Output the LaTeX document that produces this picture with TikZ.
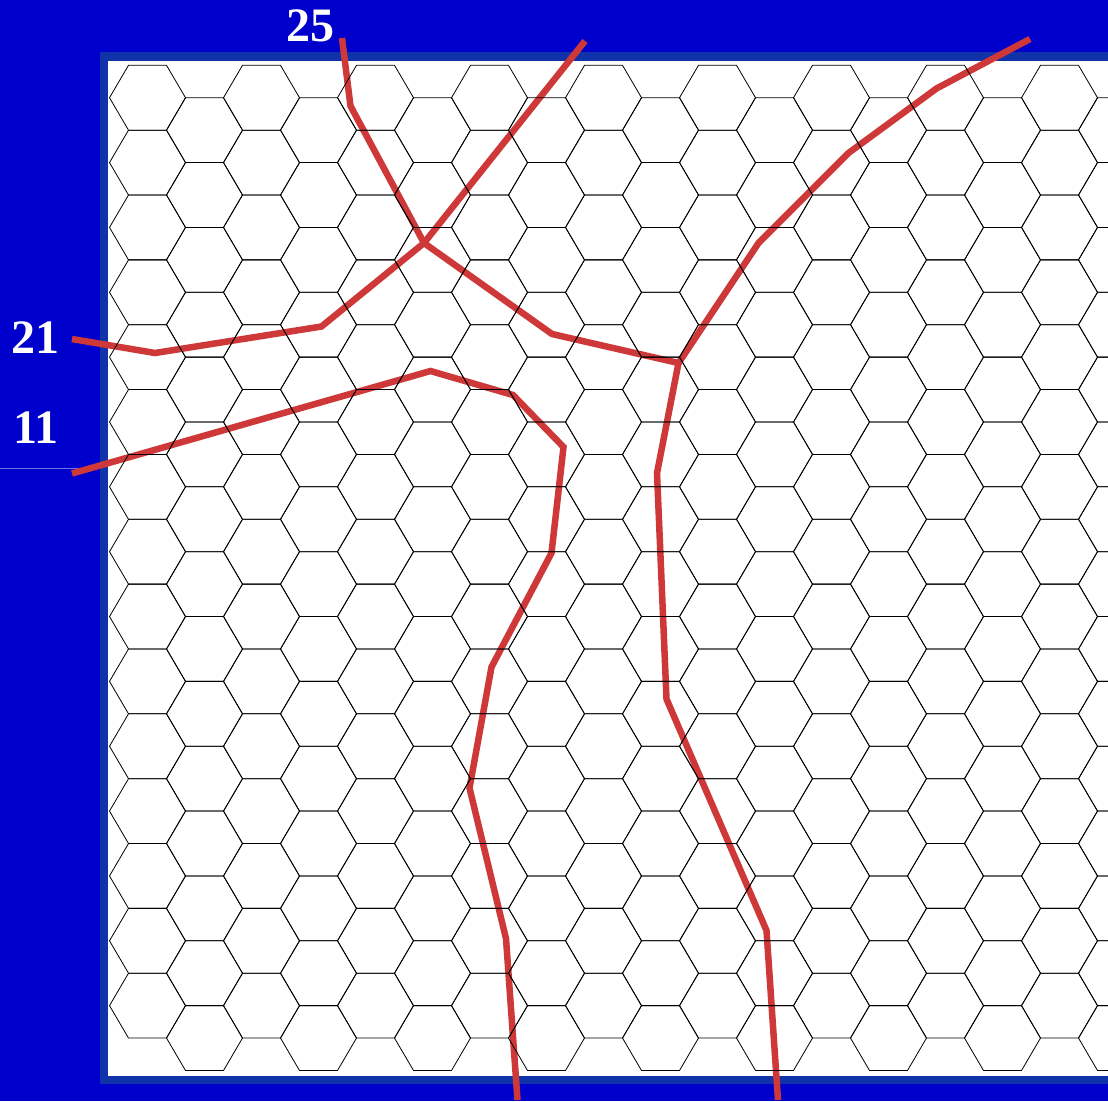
\documentclass[tikz,border=0pt]{standalone}
\usepackage{fontspec}
\setmainfont{Liberation Serif}
\definecolor{bgblue}{RGB}{0,0,204}
\definecolor{frameblue}{RGB}{17,51,170}
\definecolor{crackred}{RGB}{206,56,56}
\definecolor{faintline}{RGB}{110,110,225}
\begin{document}
\begin{tikzpicture}[x=1pt,y=-1pt,
  hexline/.style={black,line width=0.8pt,line join=miter},
  crack/.style={draw=crackred,line width=6.5pt,line join=miter,line cap=butt},
  lbl/.style={text=white,font=\bfseries\fontsize{48}{48}\selectfont,inner sep=0pt,anchor=base}]
\useasboundingbox (0,0) rectangle (1108,1101);
\fill[bgblue] (0,0) rectangle (1108,1101);
\fill[frameblue] (100,52) rectangle (1120,1084);
\fill[white] (108,60.5) rectangle (1120,1076);
\coordinate (fa) at (0,468);
\coordinate (fb) at (100,468);
\draw[faintline,line width=0.5pt] (fa) -- (fb);
% labels
\node[lbl] (l25) at (310,41.5) {25};
\node[lbl] (l21) at (36,353) {21};
\node[lbl] (l11) at (36,443) {11};
% crack points
\coordinate (c25a) at (342,38);
\coordinate (c25b) at (350.5,106);
\coordinate (J1) at (424,243);
\coordinate (t1) at (585,41);
\coordinate (a21) at (72,339);
\coordinate (b21) at (155,353);
\coordinate (c21) at (321.5,326.5);
\coordinate (m1) at (552,334);
\coordinate (J2) at (678.5,363);
\coordinate (r1) at (758.5,243);
\coordinate (r2) at (848.5,153);
\coordinate (r3) at (936.5,88.5);
\coordinate (r4) at (1030,39);
\coordinate (d1) at (657,473);
\coordinate (d2) at (666.5,699);
\coordinate (d3) at (766.5,930.5);
\coordinate (d4) at (778,1100);
\coordinate (e0) at (72,473.5);
\coordinate (e1) at (430.5,371);
\coordinate (e2) at (513,395);
\coordinate (e3) at (563.5,447);
\coordinate (e4) at (551.5,553);
\coordinate (e5) at (491.5,667);
\coordinate (e6) at (469.5,788);
\coordinate (e7) at (506,938.5);
\coordinate (e8) at (517.5,1100);
\draw[crack] (c25a) -- (c25b) -- (J1);
\draw[crack] (t1) -- (J1);
\draw[crack] (a21) -- (b21) -- (c21) -- (J1);
\draw[crack] (J1) -- (m1) -- (J2);
\draw[crack] (J2) -- (r1) -- (r2) -- (r3) -- (r4);
\draw[crack] (J2) -- (d1) -- (d2) -- (d3) -- (d4);
\draw[crack] (e0) -- (e1) -- (e2) -- (e3) -- (e4) -- (e5) -- (e6) -- (e7) -- (e8);
% hex grid
\begin{scope}
\clip (108,60.5) rectangle (1120,1076);
\foreach \j in {0,...,17}{
  \pgfmathsetmacro\cx{147.5+57*\j}
  \pgfmathsetmacro\oy{mod(\j,2)*32.425}
  \foreach \i in {0,...,14}{
    \pgfmathsetmacro\cy{97.725+\oy+64.85*\i}
    \draw[hexline] ({\cx-38},\cy) -- ({\cx-19},{\cy-32.425}) -- ({\cx+19},{\cy-32.425}) -- ({\cx+38},\cy) -- ({\cx+19},{\cy+32.425}) -- ({\cx-19},{\cy+32.425}) -- cycle;
  }
}
\end{scope}
\end{tikzpicture}
\end{document}
